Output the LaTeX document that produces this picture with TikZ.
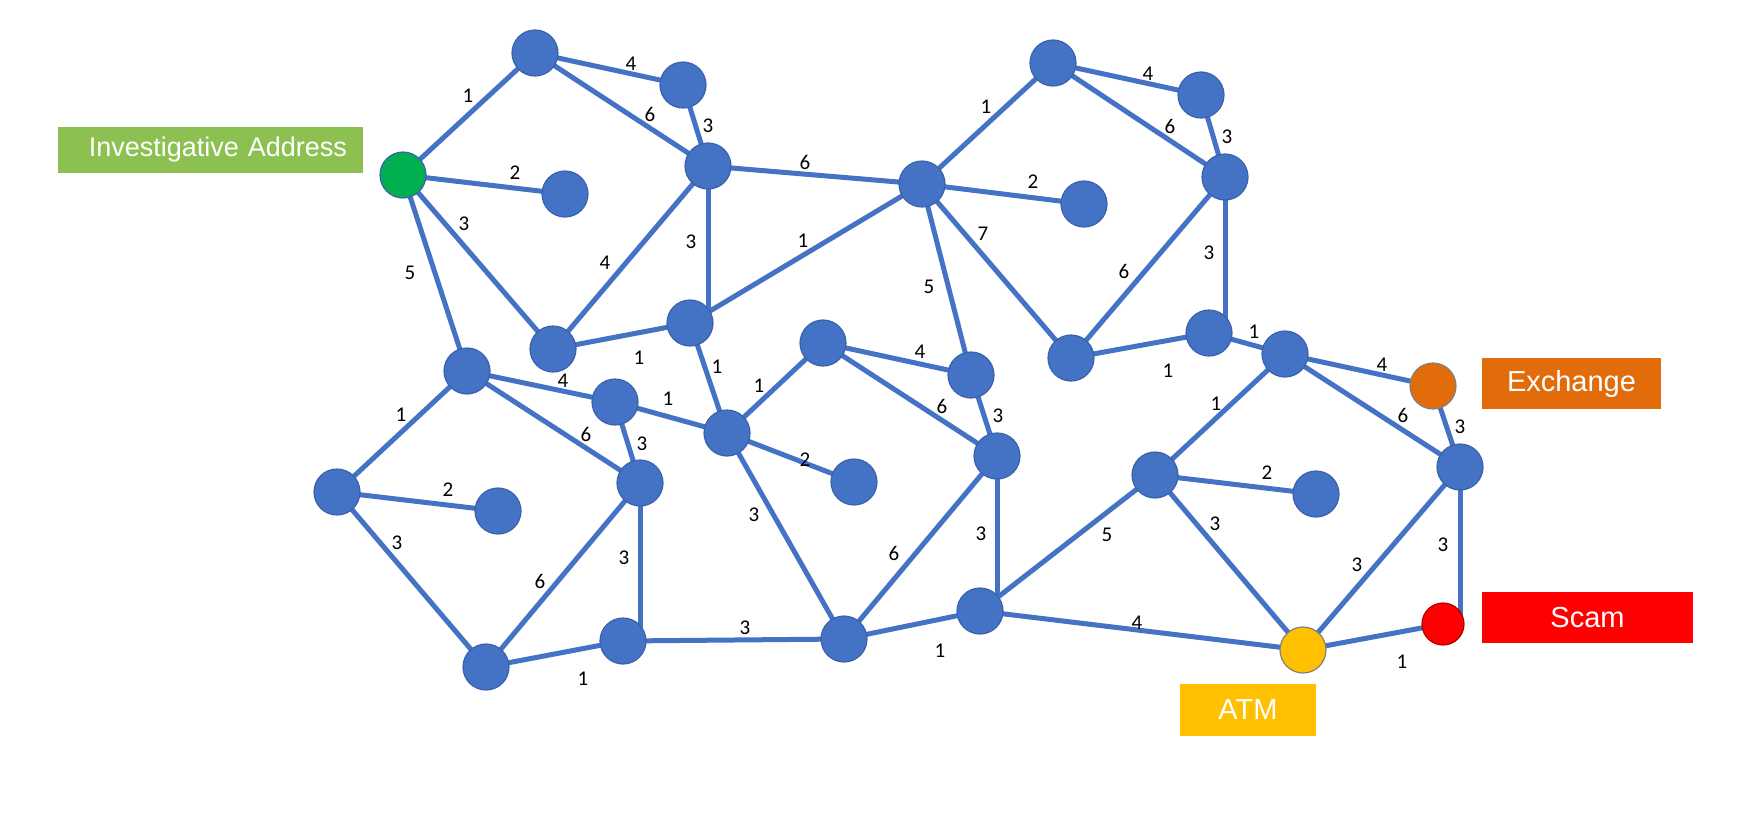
\documentclass[tikz,border=0pt]{standalone}
\usepackage{fontspec}
\setmainfont{Liberation Sans}
\newfontfamily\labfont{Carlito}
\usetikzlibrary{backgrounds}
\definecolor{nodeblue}{HTML}{4472C4}
\definecolor{nodeedge}{HTML}{3A62AC}
\definecolor{invgreen}{HTML}{00B050}
\definecolor{boxgreen}{HTML}{8CC152}
\definecolor{exorange}{HTML}{E36C0A}
\definecolor{scamred}{HTML}{FF0000}
\definecolor{atmyellow}{HTML}{FFC000}
\begin{document}
\begin{tikzpicture}[x=1pt,y=-1pt,
  vert/.style={circle, fill=nodeblue, draw=nodeedge, line width=1.2pt, minimum size=46pt, inner sep=0pt},
  link/.style={draw=nodeblue, line width=5pt},
  wlab/.style={font=\labfont\fontsize{21}{21}\selectfont, text=black, inner sep=0pt},
  tagbox/.style={text=white, font=\fontsize{29}{29}\selectfont, inner sep=0pt, align=center}]
\useasboundingbox (0,0) rectangle (1750,814);
% top-left cluster
\node[vert, fill=invgreen, draw=nodeedge] (G) at (403,175) {};
\node[vert] (A1) at (535,53) {};
\node[vert] (A2) at (683,85) {};
\node[vert] (A3) at (708,166) {};
\node[vert] (A4) at (565,194) {};
\node[vert] (A5) at (553,349) {};
\node[vert] (A6) at (690,323) {};
% top-right cluster
\node[vert] (B0) at (922,184) {};
\node[vert] (B1) at (1053,63) {};
\node[vert] (B2) at (1201,95) {};
\node[vert] (B3) at (1225,177) {};
\node[vert] (B4) at (1084,204) {};
\node[vert] (B5) at (1071,358) {};
\node[vert] (B6) at (1209,333) {};
% middle cluster
\node[vert] (C1) at (823,343) {};
\node[vert] (C2) at (971,375) {};
\node[vert] (C3) at (997,456) {};
\node[vert] (C4) at (727,433) {};
\node[vert] (C5) at (854,482) {};
\node[vert] (C6) at (844,639) {};
\node[vert] (C7) at (980,611) {};
% bottom-left cluster
\node[vert] (D1) at (467,371) {};
\node[vert] (D2) at (615,402) {};
\node[vert] (D3) at (640,483) {};
\node[vert] (D4) at (337,492) {};
\node[vert] (D5) at (498,511) {};
\node[vert] (D6) at (486,667) {};
\node[vert] (D7) at (623,641) {};
% bottom-right cluster
\node[vert] (E1) at (1285,354) {};
\node[vert, fill=exorange, draw=gray] (E2) at (1433,386) {};
\node[vert] (E3) at (1460,467) {};
\node[vert] (E4) at (1155,475) {};
\node[vert] (E5) at (1316,494) {};
\node[vert, fill=atmyellow, draw=gray] (E6) at (1303,650) {};
\node[vert, fill=scamred, draw=red!70!black, minimum size=42pt] (E7) at (1443,624) {};
% connectors
\begin{pgfonlayer}{background}
\foreach \a/\b in {G/A1, G/A4, G/A5, G/D1, A1/A2, A1/A3, A2/A3, A3/A5, A5/A6,
  A3/B0, A6/B0, A6/C4,
  B0/B1, B1/B2, B1/B3, B2/B3, B0/B4, B0/B5, B0/C2, B3/B5, B5/B6, B6/E1,
  C1/C2, C1/C3, C2/C3, C4/C1, D2/C4, C4/C5, C4/C6, C3/C6, C6/C7, D7/C6, C7/E4, C7/E6,
  D4/D1, D1/D2, D1/D3, D2/D3, D4/D5, D4/D6, D3/D6, D6/D7,
  E1/E2, E1/E3, E2/E3, E4/E1, E4/E5, E4/E6, E3/E6, E6/E7}
  \draw[link] (\a.center) -- (\b.center);
% vertical connectors, dropping straight down into the lower node
\foreach \a/\b in {A3/A6, B3/B6, C3/C7, D3/D7, E3/E7}
  \draw[link] (\a.center) -- (\a.center |- \b.center);
\end{pgfonlayer}
% weights
\foreach \x/\y/\t [count=\i] in {468/96/1, 631/64/4, 650/114/6, 708/126/3, 515/173/2, 464/224/3, 410/273/5,
  605/263/4, 691/242/3, 639/358/1, 805/162/6, 803/241/1, 717/367/1,
  986/107/1, 1148/74/4, 1170/126/6, 1227/137/3, 1033/182/2, 983/234/7, 929/287/5, 1124/271/6,
  1209/253/3, 1168/371/1, 1254/332/1,
  920/352/4, 942/406/6, 998/416/3, 759/386/1, 668/399/1, 805/460/2, 754/515/3, 894/553/6,
  981/534/3, 940/651/1, 745/628/3, 1107/535/5, 1137/623/4,
  401/415/1, 563/381/4, 586/434/6, 642/444/3, 448/490/2, 397/543/3, 540/581/6, 624/558/3, 583/679/1,
  1382/365/4, 1403/415/6, 1460/427/3, 1216/404/1, 1267/473/2, 1215/524/3, 1357/565/3, 1443/545/3, 1402/662/1}
  \node[wlab] (w\i) at (\x,\y) {\t};
% tags
\node[tagbox, fill=boxgreen, font=\fontsize{27}{27}\selectfont, minimum height=46pt, text width=273pt, inner xsep=16pt, align=right] (tInv) at (210.5,150) {Investigative Address};
\node[tagbox, fill=exorange, minimum width=179pt, minimum height=51pt] (tEx) at (1571.5,383.5) {Exchange};
\node[tagbox, fill=scamred, minimum width=211pt, minimum height=51pt] (tScam) at (1587.5,617.5) {Scam};
\node[tagbox, fill=atmyellow, minimum width=136pt, minimum height=52pt] (tAtm) at (1248,710) {ATM};
\end{tikzpicture}
\end{document}
